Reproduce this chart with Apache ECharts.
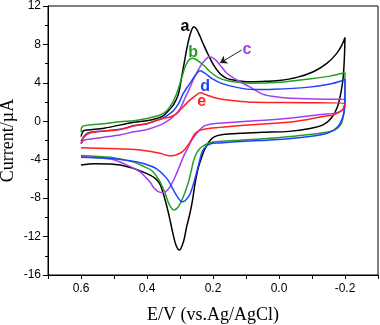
<!DOCTYPE html>
<html>
<head>
<meta charset="utf-8">
<script src="https://cdn.jsdelivr.net/npm/echarts@6/dist/echarts.min.js"></script>
<style>
html, body { margin: 0; padding: 0; background: #fff; }
#main { width: 380px; height: 325px; }
</style>
</head>
<body>
<div id="main"></div>
<script>
// E (V) vs current (uA), sweep order: start at 0.6 upper branch, to -0.2, back on lower branch
var curveA = [
  [0.600, -1.60], [0.593, -1.00], [0.580, -0.90], [0.530, -0.72], [0.440, -0.10], [0.400, 0.05],
  [0.370, 0.30], [0.350, 0.60], [0.335, 1.10], [0.320, 1.70], [0.305, 2.80], [0.295, 4.60],
  [0.285, 6.50], [0.275, 8.30], [0.265, 9.50], [0.258, 9.85], [0.250, 9.60], [0.240, 8.90],
  [0.229, 8.00], [0.214, 6.90], [0.199, 5.90], [0.180, 5.00], [0.160, 4.50], [0.138, 4.30],
  [0.100, 4.12], [0.050, 4.15], [0.000, 4.25], [-0.054, 4.57], [-0.104, 5.16], [-0.145, 6.03],
  [-0.175, 7.07], [-0.190, 7.90], [-0.200, 8.72],
  [-0.198, 6.50], [-0.194, 4.40], [-0.186, 2.70], [-0.176, 1.40], [-0.160, 0.40], [-0.135, -0.35],
  [-0.094, -0.75], [-0.030, -1.05], [0.050, -1.15], [0.118, -1.25], [0.170, -1.38], [0.195, -1.60],
  [0.209, -2.00], [0.222, -2.70], [0.232, -3.50], [0.245, -4.90], [0.255, -6.60], [0.262, -8.20],
  [0.270, -9.60], [0.280, -11.00], [0.290, -12.60], [0.302, -13.40], [0.312, -12.90], [0.322, -11.60],
  [0.332, -10.00], [0.345, -8.20], [0.360, -6.60], [0.375, -5.95], [0.400, -5.45], [0.450, -4.80],
  [0.510, -4.45], [0.560, -4.42], [0.600, -4.55]
];
var curveB = [
  [0.600, -1.10], [0.596, -0.55], [0.580, -0.40], [0.530, -0.25], [0.482, -0.05], [0.440, 0.06],
  [0.400, 0.30], [0.361, 0.65], [0.340, 1.10], [0.325, 1.80], [0.310, 2.90], [0.295, 4.50],
  [0.283, 5.80], [0.270, 6.50], [0.262, 6.55], [0.249, 6.38], [0.229, 5.86], [0.209, 5.16],
  [0.179, 4.47], [0.138, 4.12], [0.088, 3.97], [0.030, 4.00], [-0.013, 4.10], [-0.084, 4.37],
  [-0.155, 4.70], [-0.195, 5.02], [-0.200, 5.06],
  [-0.200, 2.10], [-0.196, 0.70], [-0.188, -0.30], [-0.170, -0.90], [-0.134, -1.20], [-0.043, -1.55],
  [0.058, -1.85], [0.118, -1.97], [0.180, -2.10], [0.209, -2.23], [0.234, -2.65], [0.248, -3.20],
  [0.258, -4.00], [0.265, -5.00], [0.275, -6.40], [0.290, -7.85], [0.305, -8.90], [0.318, -9.23],
  [0.332, -8.70], [0.345, -7.50], [0.362, -6.20], [0.385, -5.15], [0.410, -4.70], [0.440, -4.25],
  [0.510, -3.75], [0.600, -3.55]
];
var curveC = [
  [0.600, -2.35], [0.590, -1.95], [0.560, -1.80], [0.532, -1.67], [0.480, -1.40], [0.440, -1.10],
  [0.400, -0.85], [0.361, -0.40], [0.335, 0.10], [0.320, 0.50], [0.300, 1.30], [0.285, 2.40],
  [0.270, 3.50], [0.260, 4.30], [0.239, 5.68], [0.224, 6.38], [0.211, 6.72], [0.194, 6.45],
  [0.179, 5.86], [0.158, 5.00], [0.128, 4.30], [0.090, 3.60], [0.048, 2.80], [0.000, 2.50],
  [-0.033, 2.40], [-0.134, 2.30], [-0.200, 2.29],
  [-0.198, 1.50], [-0.190, 1.10], [-0.170, 0.85], [-0.134, 0.72], [-0.033, 0.31], [0.050, 0.10],
  [0.118, -0.04], [0.180, -0.20], [0.209, -0.30], [0.228, -0.50], [0.242, -0.95], [0.255, -1.50],
  [0.265, -2.00], [0.278, -2.90], [0.290, -3.70], [0.310, -5.40], [0.330, -6.80], [0.351, -7.43],
  [0.366, -7.33], [0.380, -6.90], [0.391, -6.30], [0.405, -5.80], [0.420, -5.30], [0.452, -4.70],
  [0.500, -4.00], [0.532, -3.85], [0.600, -3.70]
];
var curveD = [
  [0.600, -2.10], [0.587, -1.40], [0.573, -1.15], [0.530, -1.00], [0.482, -0.84], [0.440, -0.45],
  [0.400, -0.25], [0.370, 0.10], [0.351, 0.35], [0.335, 0.70], [0.320, 1.10], [0.305, 1.80],
  [0.290, 2.90], [0.270, 3.95], [0.249, 5.00], [0.239, 5.27], [0.224, 5.00], [0.204, 4.47],
  [0.174, 3.95], [0.128, 3.53], [0.078, 3.30], [0.017, 3.33], [-0.084, 3.53], [-0.155, 3.88],
  [-0.197, 4.30], [-0.200, 4.37],
  [-0.199, 1.50], [-0.192, 0.31], [-0.178, -0.56], [-0.150, -1.20], [-0.110, -1.50], [-0.020, -1.85],
  [0.060, -2.00], [0.118, -2.10], [0.180, -2.25], [0.209, -2.36], [0.225, -2.75], [0.234, -3.30],
  [0.245, -4.70], [0.255, -6.00], [0.270, -7.60], [0.285, -8.30], [0.295, -8.37], [0.305, -8.00],
  [0.320, -7.15], [0.340, -5.94], [0.371, -4.95], [0.411, -4.40], [0.452, -4.10], [0.520, -3.85],
  [0.600, -3.75]
];
var curveE = [
  [0.600, -2.30], [0.590, -1.60], [0.570, -1.20], [0.480, -0.85], [0.440, -0.50], [0.400, -0.25],
  [0.370, 0.10], [0.351, 0.30], [0.330, 0.45], [0.310, 0.80], [0.300, 1.17], [0.290, 1.52],
  [0.270, 2.20], [0.250, 2.74], [0.239, 2.98], [0.219, 2.74], [0.189, 2.40], [0.138, 2.15],
  [0.078, 1.97], [-0.084, 1.94], [-0.200, 1.87],
  [-0.192, 1.17], [-0.165, 0.66], [-0.134, 0.50], [-0.043, -0.04], [0.060, -0.30], [0.150, -0.55],
  [0.209, -0.73], [0.240, -0.95], [0.255, -1.30], [0.270, -2.20], [0.285, -2.90], [0.300, -3.33],
  [0.325, -3.60], [0.345, -3.50], [0.361, -3.33], [0.421, -3.00], [0.452, -2.90], [0.600, -2.75]
];

var curveNames = ['a', 'b', 'c', 'd', 'e'];
var curveColors = ['#000000', '#22a022', '#a040f0', '#2040ff', '#ff2020'];
var labelPos = [[0.285, 9.9], [0.26, 7.15], [0.097, 7.5], [0.224, 3.65], [0.234, 2.05]];
var arrowFrom = [0.113, 7.42];
var arrowTo = [0.179, 6.07];
var xTickLabels = [0.6, 0.4, 0.2, 0.0, -0.2];

var myChart = echarts.init(document.getElementById('main'));
var curves = [curveA, curveB, curveC, curveD, curveE];

var series = curves.map(function (d, i) {
  var s = {
    name: curveNames[i],
    type: 'line',
    data: d,
    showSymbol: false,
    smooth: 0.3,
    lineStyle: { color: curveColors[i], width: 1.5 },
    itemStyle: { color: curveColors[i] },
    markPoint: {
      symbol: 'circle',
      symbolSize: 0,
      silent: true,
      label: {
        show: true,
        formatter: curveNames[i],
        color: curveColors[i],
        fontSize: 16,
        fontWeight: 'bold',
        fontFamily: 'Liberation Sans'
      },
      data: [{ coord: labelPos[i] }]
    }
  };
  if (i === 2) {
    s.markLine = {
      silent: true,
      symbol: ['none', 'arrow'],
      symbolSize: 7,
      lineStyle: { color: '#222', width: 1, type: 'solid' },
      label: { show: false },
      data: [[{ coord: arrowFrom }, { coord: arrowTo }]]
    };
  }
  return s;
});

var option = {
  animation: false,
  grid: {
    left: 48, right: 2, top: 6, bottom: 50,
    outerBoundsMode: 'none',
    show: true, borderColor: '#000', borderWidth: 1
  },
  xAxis: {
    type: 'value',
    inverse: true,
    min: -0.3,
    max: 0.7,
    interval: 0.1,
    name: 'E/V (vs.Ag/AgCl)',
    nameLocation: 'middle',
    nameGap: 31,
    nameMoveOverlap: false,
    nameTextStyle: { fontFamily: 'Liberation Serif', fontSize: 18, color: '#000' },
    axisLine: { onZero: false, lineStyle: { color: '#000', width: 1 } },
    axisTick: { length: 4, lineStyle: { color: '#000' } },
    axisLabel: {
      margin: 8,
      color: '#000',
      fontSize: 12,
      fontFamily: 'Liberation Sans',
      formatter: function (v) {
        for (var k = 0; k < xTickLabels.length; k++) {
          if (Math.abs(v - xTickLabels[k]) < 1e-6) return xTickLabels[k].toFixed(1);
        }
        return '';
      }
    },
    splitLine: { show: false }
  },
  yAxis: {
    type: 'value',
    min: -16,
    max: 12,
    interval: 4,
    name: 'Current/\u00b5A',
    nameLocation: 'middle',
    nameGap: 31,
    nameMoveOverlap: false,
    nameTextStyle: { fontFamily: 'Liberation Serif', fontSize: 18, color: '#000' },
    axisLine: { onZero: false, lineStyle: { color: '#000', width: 1 } },
    axisTick: { length: 5, lineStyle: { color: '#000' } },
    minorTick: { show: true, splitNumber: 2, length: 3, lineStyle: { color: '#000' } },
    axisLabel: { margin: 7, color: '#000', fontSize: 12, fontFamily: 'Liberation Sans' },
    splitLine: { show: false },
    minorSplitLine: { show: false }
  },
  series: series
};
myChart.setOption(option);
</script>
</body>
</html>
